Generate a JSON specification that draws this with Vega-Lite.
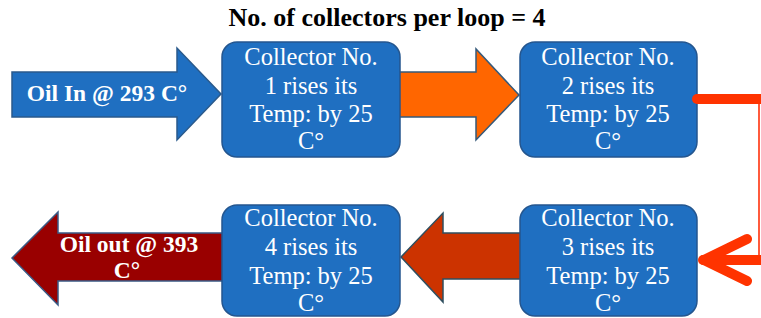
{
  "$schema": "https://vega.github.io/schema/vega-lite/v6.json",
  "width": 761,
  "height": 318,
  "autosize": {"type": "fit", "contains": "padding"},
  "padding": 0,
  "background": "white",
  "config": {"view": {"stroke": null}},
  "datasets": {
    "arrowIn": [
      {"x": 12, "ytop": 72, "ybot": 117},
      {"x": 177, "ytop": 72, "ybot": 117},
      {"x": 177, "ytop": 48, "ybot": 140},
      {"x": 221, "ytop": 94, "ybot": 94}
    ],
    "arrow12": [
      {"x": 398, "ytop": 72, "ybot": 117},
      {"x": 476, "ytop": 72, "ybot": 117},
      {"x": 476, "ytop": 49, "ybot": 140},
      {"x": 519, "ytop": 95, "ybot": 95}
    ],
    "arrow34": [
      {"x": 401, "ytop": 257, "ybot": 257},
      {"x": 443, "ytop": 213, "ybot": 302},
      {"x": 443, "ytop": 233, "ybot": 279},
      {"x": 522, "ytop": 233, "ybot": 279}
    ],
    "arrowOut": [
      {"x": 12, "ytop": 258, "ybot": 258},
      {"x": 58, "ytop": 212, "ybot": 305},
      {"x": 58, "ytop": 233, "ybot": 281},
      {"x": 224, "ytop": 233, "ybot": 281}
    ],
    "boxes": [
      {"x": 222, "x2": 400, "y": 42, "y2": 157},
      {"x": 520, "x2": 697, "y": 42, "y2": 157},
      {"x": 520, "x2": 697, "y": 205, "y2": 316},
      {"x": 222, "x2": 400, "y": 205, "y2": 316}
    ],
    "boxText": [
      {"x": 311, "y": 58, "text": "Collector No."},
      {"x": 311, "y": 87, "text": "1 rises its"},
      {"x": 311, "y": 115, "text": "Temp: by 25"},
      {"x": 311, "y": 142, "text": "C°"},
      {"x": 608, "y": 58, "text": "Collector No."},
      {"x": 608, "y": 87, "text": "2 rises its"},
      {"x": 608, "y": 115, "text": "Temp: by 25"},
      {"x": 608, "y": 142, "text": "C°"},
      {"x": 608, "y": 219, "text": "Collector No."},
      {"x": 608, "y": 248, "text": "3 rises its"},
      {"x": 608, "y": 277, "text": "Temp: by 25"},
      {"x": 608, "y": 304, "text": "C°"},
      {"x": 311, "y": 219, "text": "Collector No."},
      {"x": 311, "y": 248, "text": "4 rises its"},
      {"x": 311, "y": 277, "text": "Temp: by 25"},
      {"x": 311, "y": 304, "text": "C°"}
    ],
    "arrowText": [
      {"x": 107, "y": 94, "text": "Oil In @ 293 C°"},
      {"x": 129, "y": 245, "text": "Oil out @ 393"},
      {"x": 127, "y": 271, "text": "C°"}
    ],
    "thick": [
      {"x": 697, "x2": 761, "y": 99, "y2": 99},
      {"x": 703, "x2": 761, "y": 260, "y2": 260},
      {"x": 704, "x2": 747, "y": 260, "y2": 239},
      {"x": 704, "x2": 747, "y": 260, "y2": 281}
    ],
    "thin": [
      {"x": 759, "x2": 759, "y": 99, "y2": 258}
    ],
    "title": [
      {"x": 387, "y": 26, "text": "No. of collectors per loop = 4"}
    ]
  },
  "layer": [
    {
      "data": {"name": "arrowIn"},
      "mark": {"type": "area", "fill": "#1f6fc1", "stroke": "#2a5a8c", "strokeWidth": 1.5, "interpolate": "linear", "clip": true},
      "encoding": {
        "x": {"field": "x", "type": "quantitative", "scale": {"domain": [0, 761], "nice": false, "zero": false}, "axis": null},
        "y": {"field": "ytop", "type": "quantitative", "scale": {"domain": [0, 318], "nice": false, "zero": false, "reverse": true}, "axis": null},
        "y2": {"field": "ybot"}
      }
    },
    {
      "data": {"name": "arrow12"},
      "mark": {"type": "area", "fill": "#ff6600", "stroke": "#35597a", "strokeWidth": 1.5, "interpolate": "linear", "clip": true},
      "encoding": {
        "x": {"field": "x", "type": "quantitative"},
        "y": {"field": "ytop", "type": "quantitative"},
        "y2": {"field": "ybot"}
      }
    },
    {
      "data": {"name": "arrow34"},
      "mark": {"type": "area", "fill": "#cc3300", "stroke": "#2f4f5f", "strokeWidth": 1.5, "interpolate": "linear", "clip": true},
      "encoding": {
        "x": {"field": "x", "type": "quantitative"},
        "y": {"field": "ytop", "type": "quantitative"},
        "y2": {"field": "ybot"}
      }
    },
    {
      "data": {"name": "arrowOut"},
      "mark": {"type": "area", "fill": "#990000", "stroke": "#3a5a85", "strokeWidth": 1.5, "interpolate": "linear", "clip": true},
      "encoding": {
        "x": {"field": "x", "type": "quantitative"},
        "y": {"field": "ytop", "type": "quantitative"},
        "y2": {"field": "ybot"}
      }
    },
    {
      "data": {"name": "boxes"},
      "mark": {"type": "rect", "fill": "#1f6fc1", "stroke": "#24568f", "strokeWidth": 1.5, "cornerRadius": 15, "clip": true},
      "encoding": {
        "x": {"field": "x", "type": "quantitative"},
        "x2": {"field": "x2"},
        "y": {"field": "y", "type": "quantitative"},
        "y2": {"field": "y2"}
      }
    },
    {
      "data": {"name": "thin"},
      "mark": {"type": "rule", "stroke": "#ff5a3c", "strokeWidth": 2, "clip": true},
      "encoding": {
        "x": {"field": "x", "type": "quantitative"},
        "x2": {"field": "x2"},
        "y": {"field": "y", "type": "quantitative"},
        "y2": {"field": "y2"}
      }
    },
    {
      "data": {"name": "thick"},
      "mark": {"type": "rule", "stroke": "#ff3300", "strokeWidth": 10, "strokeCap": "round", "clip": true},
      "encoding": {
        "x": {"field": "x", "type": "quantitative"},
        "x2": {"field": "x2"},
        "y": {"field": "y", "type": "quantitative"},
        "y2": {"field": "y2"}
      }
    },
    {
      "data": {"name": "boxText"},
      "mark": {"type": "text", "font": "Liberation Serif", "fontSize": 24.5, "color": "white", "align": "center", "baseline": "middle"},
      "encoding": {
        "x": {"field": "x", "type": "quantitative"},
        "y": {"field": "y", "type": "quantitative"},
        "text": {"field": "text"}
      }
    },
    {
      "data": {"name": "arrowText"},
      "mark": {"type": "text", "font": "Liberation Serif", "fontSize": 23.5, "fontWeight": "bold", "color": "white", "align": "center", "baseline": "middle"},
      "encoding": {
        "x": {"field": "x", "type": "quantitative"},
        "y": {"field": "y", "type": "quantitative"},
        "text": {"field": "text"}
      }
    },
    {
      "data": {"name": "title"},
      "mark": {"type": "text", "font": "Liberation Serif", "fontSize": 26, "fontWeight": "bold", "color": "black", "align": "center", "baseline": "alphabetic"},
      "encoding": {
        "x": {"field": "x", "type": "quantitative"},
        "y": {"field": "y", "type": "quantitative"},
        "text": {"field": "text"}
      }
    }
  ]
}
